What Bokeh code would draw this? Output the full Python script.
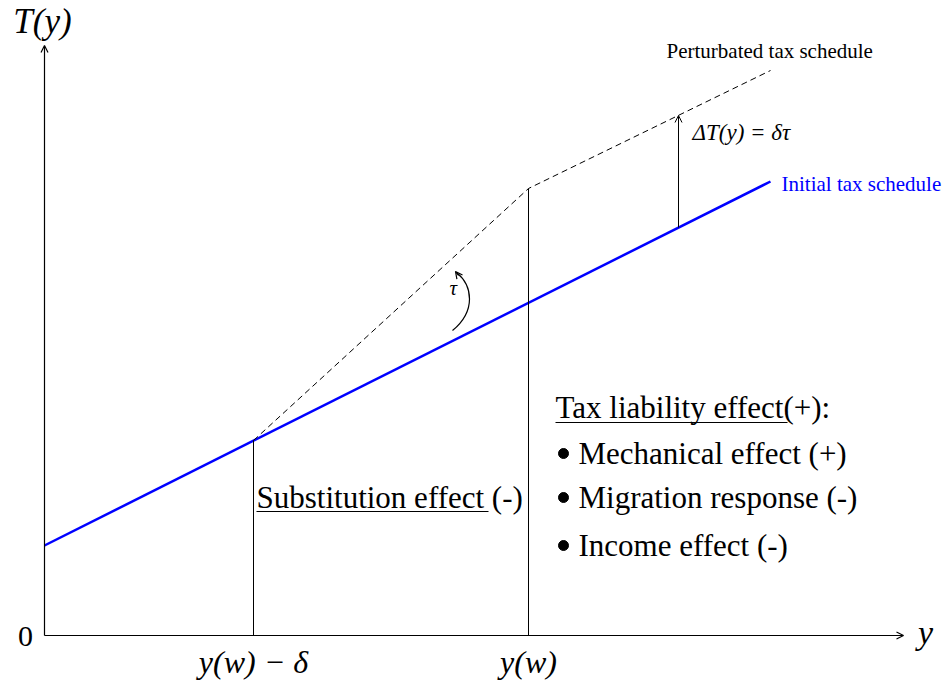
from bokeh.plotting import figure
from bokeh.models import Range1d, Arrow, OpenHead
from bokeh.core.properties import value
from bokeh.embed import file_html
from bokeh.resources import INLINE

# ---- data (diagram units: income on x, tax on y) ----
initial_x = [0, 726]
initial_y = [90, 454]
perturbed_x = [209, 484, 726]
perturbed_y = [195, 447, 565]
marker_x = [209, 484]          # y(w) - delta, y(w)
marker_top = [195, 447]
tick_labels = ["y(w) \u2212 \u03b4", "y(w)"]
delta_x = 634
delta_from = 408
delta_to = 520
bullets = ["Mechanical effect (+)", "Migration response (-)", "Income effect (-)"]
bullet_y = [182, 138, 90]

SERIF = "Liberation Serif"

p = figure(width=947, height=683, output_backend="svg", toolbar_location=None,
           x_range=Range1d(-44, 903), y_range=Range1d(-48, 635),
           min_border=0, min_border_left=0, min_border_right=0,
           min_border_top=0, min_border_bottom=0)
p.axis.visible = False
p.grid.visible = False
p.outline_line_color = None
p.background_fill_color = "white"
p.border_fill_color = "white"

# axes
p.add_layout(Arrow(end=OpenHead(size=7, line_width=1.2), x_start=0, y_start=0, x_end=859, y_end=0,
                   line_color="black", line_width=1.2))
p.add_layout(Arrow(end=OpenHead(size=7, line_width=1.2), x_start=0, y_start=0, x_end=0, y_end=590,
                   line_color="black", line_width=1.2))

# schedules
p.line(initial_x, initial_y, line_color="#0000ff", line_width=2.5)
p.line(perturbed_x, perturbed_y, line_color="black", line_width=1, line_dash="6 4")

# vertical markers
p.segment(x0=marker_x, y0=[0, 0], x1=marker_x, y1=marker_top, line_color="black", line_width=1)

# delta T arrow
p.add_layout(Arrow(end=OpenHead(size=7, line_width=1), x_start=delta_x, y_start=delta_from,
                   x_end=delta_x, y_end=delta_to, line_color="black", line_width=1))

# curved tau arrow
p.bezier(x0=[408], y0=[305], x1=[412], y1=[363], cx0=[432], cy0=[325], cx1=[428], cy1=[350],
         line_color="black", line_width=1.2)
p.add_layout(Arrow(end=OpenHead(size=7, line_width=1.2), x_start=414, y_start=360, x_end=411, y_end=364,
                   line_color="black", line_width=1.2))

def txt(x, y, s, size, align="left", color="black", style="normal", baseline="middle"):
    p.text(x=[x], y=[y], text=[s], text_font=value(SERIF), text_font_size=f"{size}px",
           text_align=align, text_baseline=baseline, text_color=color, text_font_style=style)

txt(-2, 614, "T(y)", 35, align="center", style="italic")
txt(-19, -1, "0", 30, align="center")
txt(881, 3, "y", 34, align="center", style="italic")
for xv, lab in zip(marker_x, tick_labels):
    txt(xv, -26, lab, 32, align="center", style="italic")

txt(622, 585, "Perturbated tax schedule", 21)
txt(737, 452, "Initial tax schedule", 21, color="#0000ff")
txt(648, 503, "\u0394T(y) = \u03b4\u03c4", 23, style="italic")
txt(405, 348, "\u03c4", 21, style="italic")

txt(212, 138, "Substitution effect (-)", 31)
p.segment(x0=[212], y0=[124], x1=[444], y1=[124], line_color="black", line_width=1.2)

txt(511, 228, "Tax liability effect(+):", 31)
p.segment(x0=[511], y0=[213], x1=[743], y1=[213], line_color="black", line_width=1.2)

p.scatter(x=[519] * len(bullet_y), y=bullet_y, size=10, marker="circle", color="black")
for yv, b in zip(bullet_y, bullets):
    txt(534, yv, b, 31)

open("out.html", "w").write(file_html(p, INLINE))
